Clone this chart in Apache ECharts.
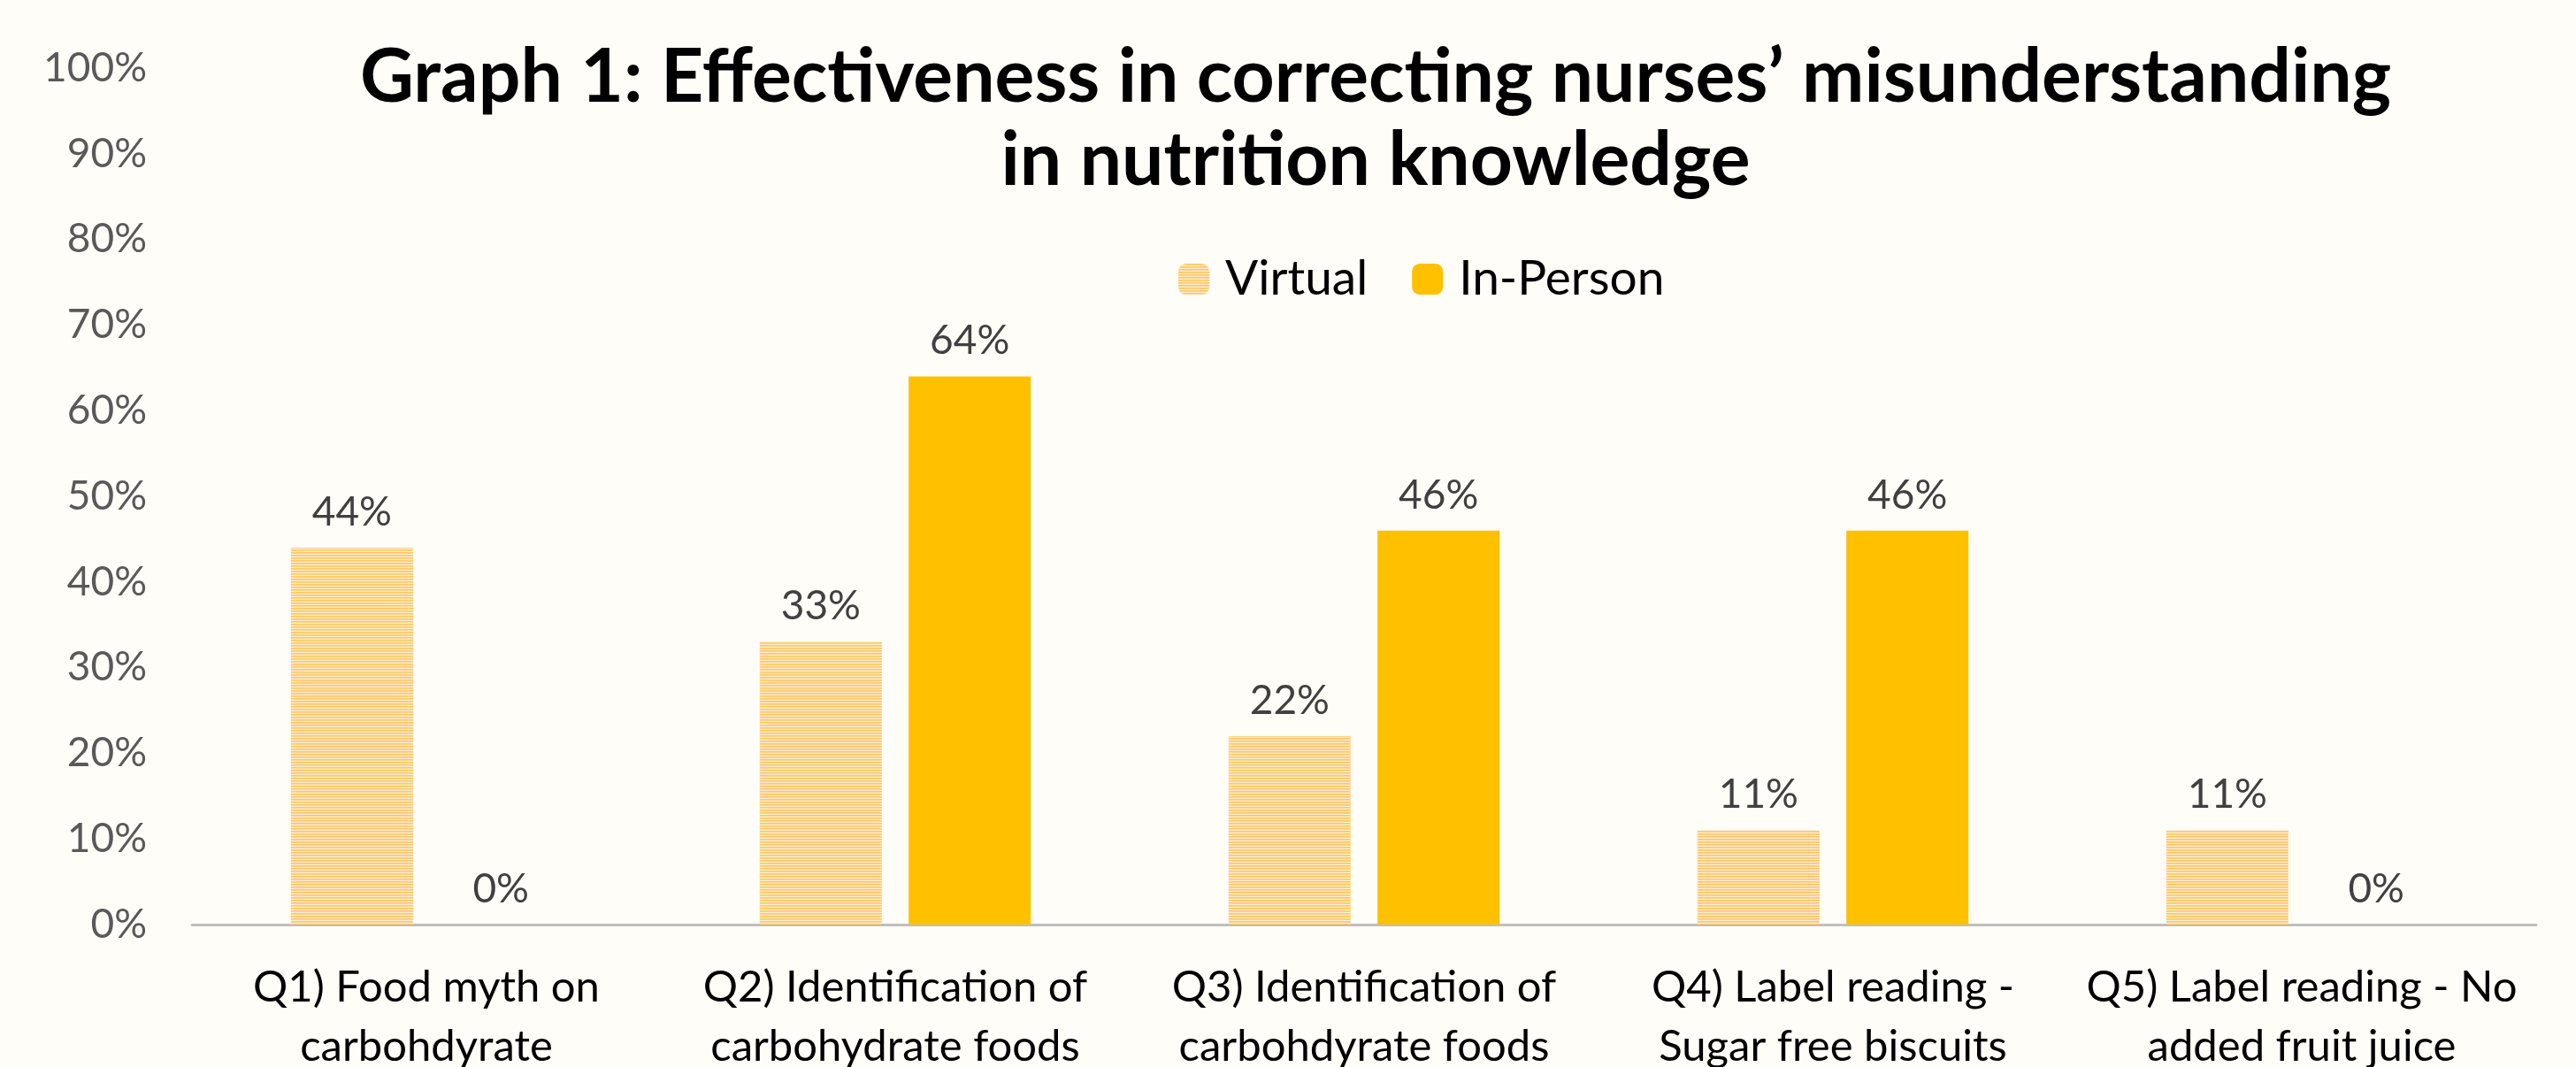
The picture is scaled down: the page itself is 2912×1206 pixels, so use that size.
<!DOCTYPE html>
<html>
<head>
<meta charset="utf-8">
<script src="https://cdn.jsdelivr.net/npm/echarts@6/dist/echarts.min.js"></script>
<style>
html,body{margin:0;padding:0;background:#FFFDF8;}
#c{width:2912px;height:1206px;}
</style>
</head>
<body>
<div id="c"></div>
<script>
const titleLines = ["Graph 1: Effectiveness in correcting nurses\u2019 misunderstanding", "in nutrition knowledge"];
const categories = [
  "Q1) Food myth on\ncarbohdyrate",
  "Q2) Identification of\ncarbohydrate foods",
  "Q3) Identification of\ncarbohdyrate foods",
  "Q4) Label reading -\nSugar free biscuits",
  "Q5) Label reading - No\nadded fruit juice"
];
const seriesNames = ["Virtual", "In-Person"];
const virtualValues = [44, 33, 22, 11, 11];
const inPersonValues = [0, 64, 46, 46, 0];
const yTickMin = 0;
const yTickMax = 100;
const yTickStep = 10;

// striped pattern for the "Virtual" series
const pat = document.createElement('canvas');
pat.width = 4; pat.height = 3;
const pc = pat.getContext('2d');
pc.fillStyle = '#FFC766'; pc.fillRect(0, 0, 4, 1);
pc.fillStyle = '#FFD28A'; pc.fillRect(0, 1, 4, 1);
pc.fillStyle = '#FFEDCF'; pc.fillRect(0, 2, 4, 1);

const FONT = 'Lato';
const chart = echarts.init(document.getElementById('c'), null, {renderer: 'canvas'});
chart.setOption({
  backgroundColor: '#FFFDF8',
  animation: false,
  title: {
    text: titleLines.join('\n'),
    left: 1550,
    top: 36,
    textAlign: 'center',
    textStyle: {fontFamily: FONT, fontWeight: 'bold', fontSize: 84, lineHeight: 94, color: '#000000'}
  },
  legend: {
    data: seriesNames,
    left: 1327,
    top: 283,
    itemWidth: 35,
    itemHeight: 35,
    itemGap: 50,
    textStyle: {fontFamily: FONT, fontSize: 55, color: '#000000', lineHeight: 35, padding: [0, 0, 0, 13]}
  },
  grid: {left: 217, right: 45, top: 77, bottom: 161, containLabel: false, outerBoundsMode: 'none'},
  xAxis: {
    type: 'category',
    data: categories,
    axisLine: {show: true, lineStyle: {color: '#BFBFBF', width: 3}},
    axisTick: {show: false},
    axisLabel: {interval: 0, margin: 38, fontFamily: FONT, fontSize: 49, lineHeight: 67, color: '#000000', align: 'center'},
    splitLine: {show: false}
  },
  yAxis: {
    type: 'value',
    min: yTickMin,
    max: yTickMax,
    interval: yTickStep,
    axisLine: {show: false},
    axisTick: {show: false},
    splitLine: {show: false},
    axisLabel: {margin: 51, fontFamily: FONT, fontSize: 46, color: '#595959', formatter: '{value}%'}
  },
  series: [
    {
      name: seriesNames[0], type: 'bar', data: virtualValues,
      barWidth: 138, barGap: '22%',
      itemStyle: {color: {image: pat, repeat: 'repeat'}},
      label: {show: true, position: 'top', distance: 16, fontFamily: FONT, fontSize: 46, lineHeight: 48, color: '#404040', formatter: '{c}%'}
    },
    {
      name: seriesNames[1], type: 'bar', data: inPersonValues,
      barWidth: 138, barGap: '22%',
      itemStyle: {color: '#FFC000'},
      label: {show: true, position: 'top', distance: 16, fontFamily: FONT, fontSize: 46, lineHeight: 48, color: '#404040', formatter: '{c}%'}
    }
  ]
});
</script>
</body>
</html>
